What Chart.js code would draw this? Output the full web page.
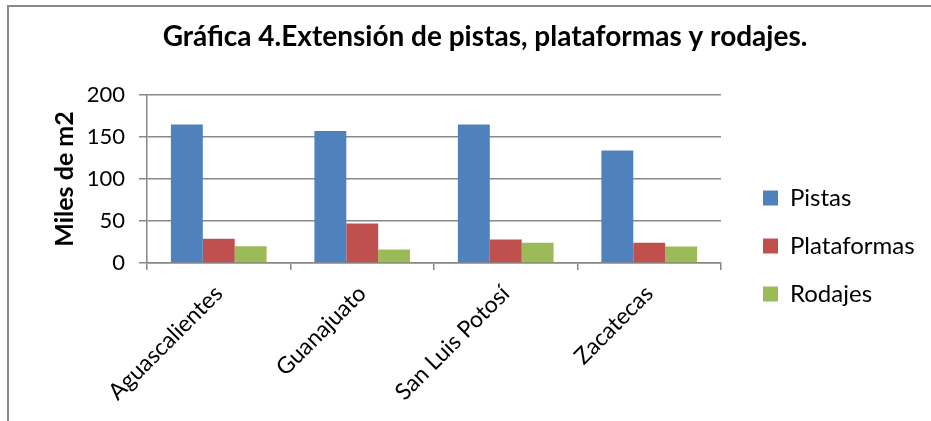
<!DOCTYPE html>
<html>
<head>
<meta charset="utf-8">
<script src="https://cdn.jsdelivr.net/npm/chart.js@4"></script>
<style>
  html, body { margin: 0; padding: 0; background: #fff; }
  #wrap { position: relative; width: 931px; height: 421px; overflow: hidden; }
  #frame { position: absolute; left: 7px; top: 5px; width: 940px; height: 440px;
           border-left: 2px solid #888; border-top: 2px solid #888; box-sizing: border-box; }
  canvas { position: absolute; left: 0; top: 0; }
</style>
</head>
<body>
<div id="wrap">
  <div id="frame"></div>
  <canvas id="c" width="931" height="421"></canvas>
</div>
<script>
const chartTitle = 'Gráfica 4.Extensión de pistas, plataformas y rodajes.';
const yAxisTitle = 'Miles de m2';
const categories = ['Aguascalientes', 'Guanajuato', 'San Luis Potosí', 'Zacatecas'];
const seriesNames = ['Pistas', 'Plataformas', 'Rodajes'];
const pistas = [165, 157, 165, 134];
const plataformas = [29, 47, 28, 24];
const rodajes = [20, 16, 24, 19.5];
const yMin = 0, yMax = 200, yStep = 50;

const colors = ['#4F81BD', '#C0504D', '#9BBB59'];
const gridColor = '#878787';
const fontFamily = 'Lato, "Liberation Sans", sans-serif';
const legendFont = 24, legendPad = 24;
const plotRight = 721;
const legendGap = 42 - legendPad;
const titleCenter = 485;

// move the legend right of the plot (wider gap than the item spacing) and centre the title
const layoutTweak = {
  id: 'layoutTweak',
  afterLayout(chart) {
    if (chart.legend) {
      chart.legend.left += legendGap;
      chart.legend.right += legendGap;
    }
    const t = chart.titleBlock;
    if (t) {
      const shift = titleCenter - (t.left + t.right) / 2;
      t.left += shift;
      t.right += shift;
    }
  }
};

const chart = new Chart(document.getElementById('c'), {
  type: 'bar',
  data: {
    labels: categories,
    datasets: [pistas, plataformas, rodajes].map((d, i) => ({
      label: seriesNames[i],
      data: d,
      backgroundColor: colors[i],
      borderWidth: 0,
      barPercentage: 1.0,
      categoryPercentage: 0.667
    }))
  },
  plugins: [layoutTweak],
  options: {
    responsive: false,
    animation: false,
    devicePixelRatio: 1,
    layout: { padding: { left: 39, right: 20, top: 0, bottom: 0 } },
    plugins: {
      title: {
        display: true,
        text: chartTitle,
        color: '#000',
        font: { family: fontFamily, size: 28, weight: 'bold' },
        padding: { top: 20, bottom: 41.4 }
      },
      legend: {
        position: 'right',
        align: 'center',
        title: { display: true, text: ' ', font: { size: 12 }, padding: { top: 0, bottom: 56.6 } },
        labels: {
          color: '#000',
          font: { family: fontFamily, size: legendFont },
          boxWidth: 15,
          boxHeight: 15,
          padding: legendPad
        }
      },
      tooltip: { enabled: false }
    },
    scales: {
      x: {
        offset: true,
        grid: {
          display: true,
          drawOnChartArea: false,
          drawTicks: true,
          tickLength: 7,
          color: gridColor,
          lineWidth: 1.5,
          offset: true
        },
        border: { display: true, color: gridColor, width: 1.5 },
        ticks: {
          color: '#000',
          font: { family: fontFamily, size: 23 },
          minRotation: 45,
          maxRotation: 45,
          autoSkip: false,
          padding: 10
        },
        afterFit: (s) => { s.height = 158; }
      },
      y: {
        min: yMin,
        max: yMax,
        ticks: {
          stepSize: yStep,
          color: '#000',
          font: { family: fontFamily, size: 22 },
          padding: 14
        },
        grid: {
          color: gridColor,
          lineWidth: 1.5,
          drawTicks: true,
          tickLength: 8
        },
        border: { display: true, color: gridColor, width: 1.5 },
        title: {
          display: true,
          text: yAxisTitle,
          color: '#000',
          font: { family: fontFamily, size: 25, weight: 'bold' },
          padding: { top: 11, bottom: 0 }
        },
        afterFit: (s) => { s.width = 108; }
      }
    }
  }
});

// fine-tune the right padding so the plot area ends at the reference position
const delta = chart.chartArea.right - plotRight;
if (Math.abs(delta) > 0.5) {
  chart.options.layout.padding.right = Math.max(0, chart.options.layout.padding.right + delta);
  chart.update();
}
</script>
</body>
</html>
